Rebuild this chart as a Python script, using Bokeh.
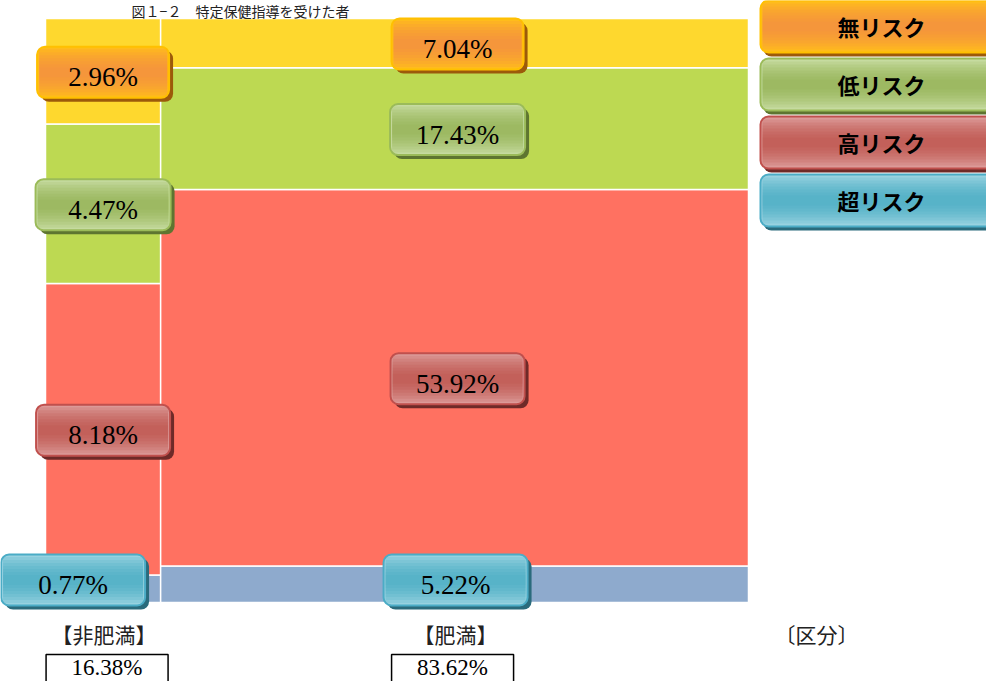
from bokeh.plotting import figure
from bokeh.models import Range1d, BoxAnnotation, ColumnDataSource
from bokeh.embed import file_html
from bokeh.resources import INLINE
from bokeh.core.properties import value

# ---------------- data ----------------
title_text = "図１−２　特定保健指導を受けた者"
groups = ["【非肥満】", "【肥満】"]
group_share = [16.38, 83.62]
risk_levels = ["無リスク", "低リスク", "高リスク", "超リスク"]
non_obese = [2.96, 4.47, 8.18, 0.77]
obese = [7.04, 17.43, 53.92, 5.22]
axis_label = "〔区分〕"

# ---------------- styles ----------------
seg_colors = ["#FED82E", "#BDD952", "#FF7161", "#8EAACD"]
box_light = ["#FFBC1C", "#C6DBA0", "#DC9A98", "#98D2E0"]
box_dark = ["#F58B4C", "#8FB04A", "#BC4A47", "#3FA5C0"]
box_border = ["#FFC000", "#9BBB59", "#C0504D", "#4BACC6"]
box_shadow = ["#9C5A0A", "#5E7530", "#6E2A28", "#2A6B7C"]
box_w_px = [132, 135, 134, 144]
box_h_px = 51
nudge_x_px = [[0, 0, 0, -30], [3, 3, 3, 1]]

W, H = 986, 681
FX0, FX1 = 45, 748   # canvas px of x=0 and x=100
FY0, FY1 = 602, 18   # canvas px (from top) of y=0 and y=100
sx = (FX1 - FX0) / 100.0
sy = (FY0 - FY1) / 100.0


def dxp(d):
    return d / sx


def dyp(d):
    return d / sy


def cx(px):
    return (px - FX0) / sx


def cy(px):
    return (FY0 - px) / sy


p = figure(width=W, height=H, x_range=Range1d(cx(0), cx(W)), y_range=Range1d(cy(H), cy(0)),
           output_backend="svg", toolbar_location=None, min_border=0,
           x_axis_location=None, y_axis_location=None)
p.grid.visible = False
p.outline_line_color = None
p.background_fill_color = "white"
p.border_fill_color = "white"

# ---------------- mosaic segments ----------------
series = [non_obese, obese]
total = sum(group_share)
seg = dict(left=[], right=[], bottom=[], top=[], color=[])
lab = []
left = 0.0
col_centers = []
for g, (share, vals) in enumerate(zip(group_share, series)):
    right = left + share / total * 100.0
    col_centers.append((left + right) / 2)
    colsum = sum(vals)
    bottom = 0.0
    for i in reversed(range(len(vals))):
        h = vals[i] / colsum * 100.0
        seg["left"].append(left)
        seg["right"].append(right)
        seg["bottom"].append(bottom)
        seg["top"].append(bottom + h)
        seg["color"].append(seg_colors[i])
        lab.append(((left + right) / 2, bottom + h / 2, vals[i], i, g))
        bottom += h
    left = right

p.quad(left="left", right="right", bottom="bottom", top="top", fill_color="color",
       line_color="white", line_width=1.5, source=ColumnDataSource(seg))

# ---------------- value labels (rounded glossy boxes) ----------------
bx, by, bw, bcol, btxt = [], [], [], [], []
for (xc, yc, v, i, g) in lab:
    w = box_w_px[i]
    x = xc + dxp(nudge_x_px[g][i])
    y = yc - dyp(1)
    y = max(y, dyp(box_h_px / 2) - dyp(3))
    hw, hh = dxp(w / 2), dyp(box_h_px / 2)
    p.add_layout(BoxAnnotation(left=x - hw + dxp(4), right=x + hw + dxp(4),
                               bottom=y - hh - dyp(4), top=y + hh - dyp(4),
                               fill_color=box_shadow[i], fill_alpha=1, line_color=None,
                               border_radius=8))
    p.add_layout(BoxAnnotation(left=x - hw, right=x + hw, bottom=y - hh, top=y + hh,
                               fill_color=box_light[i], fill_alpha=1, line_color=box_border[i],
                               line_width=2, line_alpha=1, border_radius=8))
    bx.append(x); by.append(y); bw.append(w - 4); bcol.append(box_dark[i])
    btxt.append(f"{v:.2f}%")

# ---------------- legend boxes ----------------
lx, ly, lw, lcol, ltxt = [], [], [], [], []
for i, name in enumerate(risk_levels):
    top_px = 0 + i * 58
    l, r = cx(760), cx(1010)
    t, b = cy(top_px), cy(top_px + box_h_px + 1)
    p.add_layout(BoxAnnotation(left=l + dxp(3), right=r, bottom=b - dyp(4), top=t - dyp(4),
                               fill_color=box_shadow[i], fill_alpha=1, line_color=None,
                               border_radius=8))
    p.add_layout(BoxAnnotation(left=l, right=r, bottom=b, top=t,
                               fill_color=box_light[i], fill_alpha=1, line_color=box_border[i],
                               line_width=2, line_alpha=1, border_radius=8))
    lx.append((cx(760) + cx(990)) / 2); ly.append((t + b) / 2); lw.append(226)
    lcol.append(box_dark[i]); ltxt.append(name)

band_src = ColumnDataSource(dict(x=bx + lx, y=by + ly, w=bw + lw, c=bcol + lcol))
for hgt in [46, 40, 34, 28, 22, 16, 10]:
    p.rect(x="x", y="y", width="w", height=hgt, width_units="screen", height_units="screen",
           fill_color="c", fill_alpha=0.16, line_color=None, source=band_src, level="overlay")

p.text(x=bx, y=[v - dyp(5) for v in by], text=btxt, text_font=value("Liberation Serif"),
       text_font_size="27px", text_align="center", text_baseline="middle", text_color="black",
       level="overlay")
p.text(x=[(cx(768) + cx(1000)) / 2 - dxp(3)] * 4, y=[v + dyp(1) for v in ly], text=ltxt,
       text_font=value("Noto Sans CJK JP"), text_font_size="22px", text_align="center",
       text_baseline="middle", text_color="black", text_font_style="bold", level="overlay")

# ---------------- category labels, totals ----------------
p.text(x=[c + dxp(1) for c in col_centers], y=[cy(633)] * 2, text=groups,
       text_font=value("Noto Sans CJK JP"), text_font_size="21px", text_align="center",
       text_baseline="middle", text_color="#222222")
p.text(x=[cx(816)], y=[cy(633)], text=[axis_label], text_font=value("Noto Sans CJK JP"),
       text_font_size="21px", text_align="center", text_baseline="middle", text_color="#222222")

tot_x = [col_centers[0] + dxp(4), col_centers[1] - dxp(2)]
for xc in tot_x:
    p.add_layout(BoxAnnotation(left=xc - dxp(61), right=xc + dxp(61), top=cy(654), bottom=cy(700),
                               fill_color="white", fill_alpha=1, line_color="black",
                               line_width=1.5, line_alpha=1))
p.text(x=tot_x, y=[cy(667)] * 2, text=[f"{s:.2f}%" for s in group_share],
       text_font=value("Liberation Serif"), text_font_size="23px", text_align="center",
       text_baseline="middle", text_color="black", level="overlay")

# ---------------- title ----------------
p.text(x=[cx(240)], y=[cy(0)], text=[title_text], text_font=value("Noto Sans CJK JP"),
       text_font_size="14px", text_align="center", text_baseline="top", text_color="#222222")

open("out.html", "w").write(file_html(p, INLINE))
